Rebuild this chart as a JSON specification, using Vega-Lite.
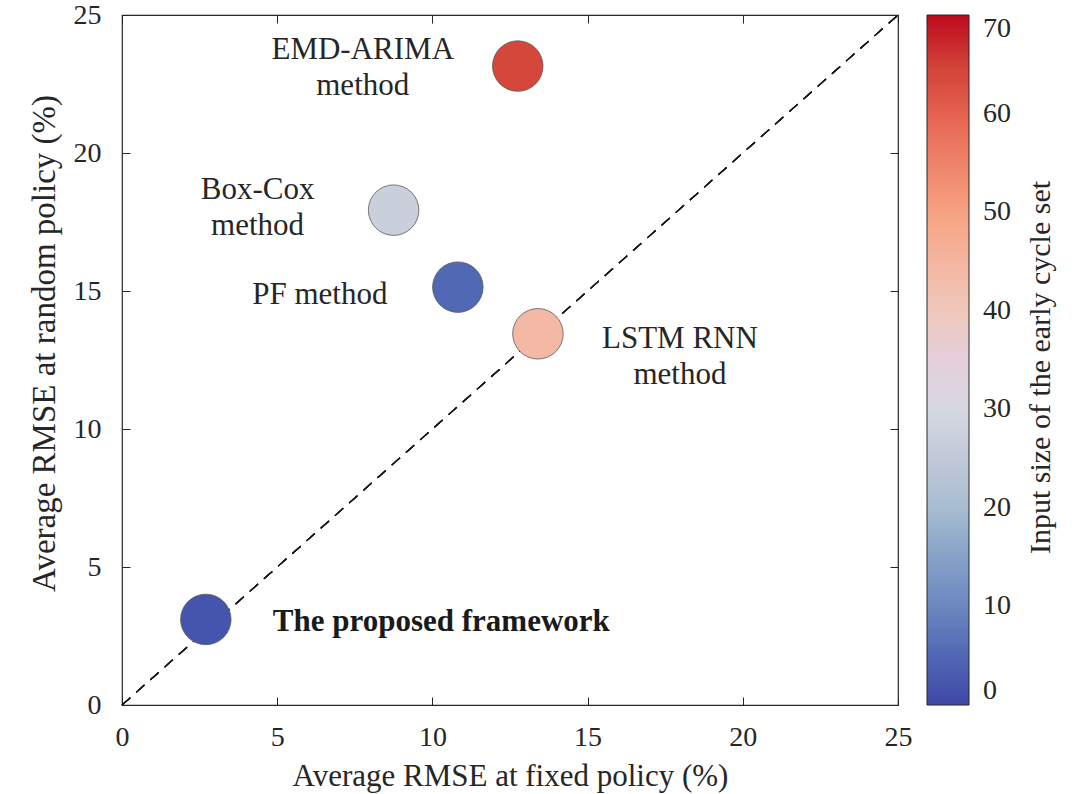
{
  "$schema": "https://vega.github.io/schema/vega-lite/v6.json",
  "autosize": {"type": "none"},
  "padding": {"left": 122, "top": 15, "right": 182, "bottom": 89},
  "width": 776,
  "height": 690,
  "background": "white",
  "config": {
    "font": "Liberation Serif",
    "view": {"stroke": "#262626", "strokeWidth": 1.2},
    "axis": {
      "labelFont": "Liberation Serif",
      "labelFontSize": 28,
      "labelColor": "#262626",
      "labelFlush": false,
      "titleFont": "Liberation Serif",
      "titleFontSize": 31,
      "titleFontWeight": "normal",
      "titleColor": "#262626",
      "domain": false,
      "grid": false,
      "tickColor": "#262626",
      "tickSize": -8,
      "tickWidth": 1
    },
    "legend": {
      "labelFont": "Liberation Serif",
      "titleFont": "Liberation Serif"
    }
  },
  "data": {
    "values": [
      {"method": "EMD-ARIMA", "fixed": 12.75, "random": 23.15, "input": 64},
      {"method": "Box-Cox", "fixed": 8.75, "random": 17.93, "input": 27},
      {"method": "PF", "fixed": 10.82, "random": 15.14, "input": 5},
      {"method": "LSTM RNN", "fixed": 13.4, "random": 13.45, "input": 44},
      {"method": "Proposed", "fixed": 2.7, "random": 3.1, "input": 2}
    ]
  },
  "resolve": {"axis": {"x": "independent", "y": "independent"}},
  "layer": [
    {
      "mark": {"type": "rule", "strokeDash": [11, 8], "color": "#1a1a1a", "strokeWidth": 1.2},
      "encoding": {
        "x": {"datum": 0, "type": "quantitative", "scale": {"domain": [0, 25], "nice": false},
              "axis": {"orient": "top", "labels": false, "title": null, "values": [0, 5, 10, 15, 20, 25]}},
        "y": {"datum": 0, "type": "quantitative", "scale": {"domain": [0, 25], "nice": false},
              "axis": {"orient": "right", "labels": false, "values": [0, 5, 10, 15, 20, 25],
                       "title": "Input size of the early cycle set", "titleAngle": 270, "titleX": 142, "titleY": 352,
                       "titleAlign": "center", "titleBaseline": "middle", "titleFontSize": 30}},
        "x2": {"datum": 25},
        "y2": {"datum": 25}
      }
    },
    {
      "mark": {"type": "point", "filled": true, "opacity": 1, "stroke": "#5a5a5a", "strokeWidth": 0.8, "size": 2550, "shape": "circle"},
      "encoding": {
        "x": {"field": "fixed", "type": "quantitative", "scale": {"domain": [0, 25], "nice": false},
              "axis": {"orient": "bottom", "title": "Average RMSE at fixed policy (%)", "values": [0, 5, 10, 15, 20, 25], "labelPadding": 26, "titlePadding": 10}},
        "y": {"field": "random", "type": "quantitative", "scale": {"domain": [0, 25], "nice": false},
              "axis": {"orient": "left", "title": "Average RMSE at random policy (%)", "values": [0, 5, 10, 15, 20, 25], "labelPadding": 29, "titlePadding": 12, "titleFontSize": 33, "titleY": 328}},
        "fill": {
          "field": "input", "type": "quantitative",
          "scale": {
            "domain": [0, 10, 20, 30, 40, 50, 60, 70],
            "range": ["#3f47a6", "#6b87c0", "#a8bcd0", "#d6d8e0", "#efc8bc", "#f6a282", "#e4624f", "#bd0a1e"]
          },
          "legend": {
            "title": null,
            "orient": "none",
            "legendX": 805,
            "legendY": 0,
            "direction": "vertical",
            "gradientLength": 690,
            "gradientThickness": 42,
            "gradientStrokeColor": "#262626",
            "gradientStrokeWidth": 1,
            "values": [0, 10, 20, 30, 40, 50, 60, 70],
            "labelFontSize": 28,
            "labelColor": "#262626",
            "labelOffset": 14,
            "labelBaseline": "middle",
            "labelOverlap": false,
            "encode": {"labels": {"update": {"baseline": {"value": "middle"}}}}
          }
        }
      }
    },
    {
      "transform": [{"filter": "datum.method === 'EMD-ARIMA'"}],
      "mark": {"type": "text", "text": ["EMD-ARIMA", "method"], "fontSize": 31, "lineHeight": 36, "align": "center", "baseline": "middle", "dx": -155, "dy": -16, "color": "#262626"},
      "encoding": {
        "x": {"field": "fixed", "type": "quantitative", "axis": null},
        "y": {"field": "random", "type": "quantitative", "axis": null}
      }
    },
    {
      "transform": [{"filter": "datum.method === 'Box-Cox'"}],
      "mark": {"type": "text", "text": ["Box-Cox", "method"], "fontSize": 31, "lineHeight": 36, "align": "center", "baseline": "middle", "dx": -136, "dy": -20, "color": "#262626"},
      "encoding": {
        "x": {"field": "fixed", "type": "quantitative", "axis": null},
        "y": {"field": "random", "type": "quantitative", "axis": null}
      }
    },
    {
      "transform": [{"filter": "datum.method === 'PF'"}],
      "mark": {"type": "text", "text": "PF method", "fontSize": 31, "align": "center", "baseline": "middle", "dx": -138, "dy": 8, "color": "#262626"},
      "encoding": {
        "x": {"field": "fixed", "type": "quantitative", "axis": null},
        "y": {"field": "random", "type": "quantitative", "axis": null}
      }
    },
    {
      "transform": [{"filter": "datum.method === 'LSTM RNN'"}],
      "mark": {"type": "text", "text": ["LSTM RNN", "method"], "fontSize": 31, "lineHeight": 36, "align": "center", "baseline": "middle", "dx": 142, "dy": 5, "color": "#262626"},
      "encoding": {
        "x": {"field": "fixed", "type": "quantitative", "axis": null},
        "y": {"field": "random", "type": "quantitative", "axis": null}
      }
    },
    {
      "transform": [{"filter": "datum.method === 'Proposed'"}],
      "mark": {"type": "text", "text": "The proposed framework", "fontSize": 31, "fontWeight": "bold", "align": "left", "baseline": "middle", "dx": 67, "dy": 3, "color": "#1a1a1a"},
      "encoding": {
        "x": {"field": "fixed", "type": "quantitative", "axis": null},
        "y": {"field": "random", "type": "quantitative", "axis": null}
      }
    }
  ]
}
